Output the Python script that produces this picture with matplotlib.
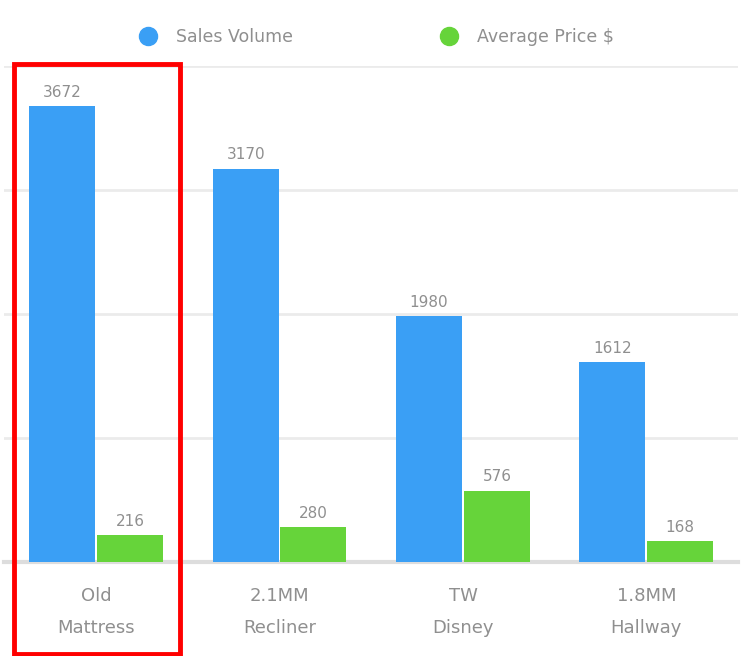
import matplotlib.pyplot as plt
import numpy as np
from matplotlib.patches import Rectangle
from matplotlib.lines import Line2D

categories = ['Old\nMattress', '2.1MM\nRecliner', 'TW\nDisney', '1.8MM\nHallway']
sales_volume = [3672, 3170, 1980, 1612]
average_price = [216, 280, 576, 168]
series_names = ['Sales Volume', 'Average Price $']

blue = '#3a9ff5'
green = '#66d43a'
text_grey = '#8f8f8f'

fig = plt.figure(figsize=(7.44, 6.56), dpi=100)
ax = fig.add_axes([0.006, 0.143, 0.986, 0.757])

x = np.arange(len(categories))
w = 0.36
ax.bar(x - w / 2 - 0.005, sales_volume, w, color=blue, zorder=3)
ax.bar(x + w / 2 + 0.005, average_price, w, color=green, zorder=3)

for xi, v in zip(x - w / 2 - 0.005, sales_volume):
    ax.text(xi, v + 50, str(v), ha='center', va='bottom', fontsize=11, color=text_grey)
for xi, v in zip(x + w / 2 + 0.005, average_price):
    ax.text(xi, v + 50, str(v), ha='center', va='bottom', fontsize=11, color=text_grey)

ax.set_xlim(-0.5, len(categories) - 0.5)
ax.set_ylim(0, 4000)
ax.set_yticks([1000, 2000, 3000, 4000])
ax.yaxis.grid(True, color='#ebebeb', linewidth=2, zorder=0)
ax.set_xticks(x)
ax.set_xticklabels(categories, fontsize=13, color=text_grey, linespacing=2.0)
ax.tick_params(axis='x', length=0, pad=18)
ax.tick_params(axis='y', length=0, labelleft=False)
for s in ['top', 'right', 'left']:
    ax.spines[s].set_visible(False)
ax.spines['bottom'].set_color('#dddddd')
ax.spines['bottom'].set_linewidth(3)

handles = [Line2D([], [], marker='o', linestyle='', markersize=13, color=blue),
           Line2D([], [], marker='o', linestyle='', markersize=13, color=green)]
fig.legend(handles, series_names, loc='center', bbox_to_anchor=(0.5, 0.944), ncol=2,
           frameon=False, fontsize=12.5, labelcolor=text_grey, columnspacing=8,
           handletextpad=0.6)

# highlight box around the first category
fig.patches.append(Rectangle((14 / 744, 2 / 656), 166 / 744, 590 / 656,
                             transform=fig.transFigure, fill=False,
                             edgecolor='#ff0000', linewidth=3.5))

fig.savefig('out.png', dpi=100)
